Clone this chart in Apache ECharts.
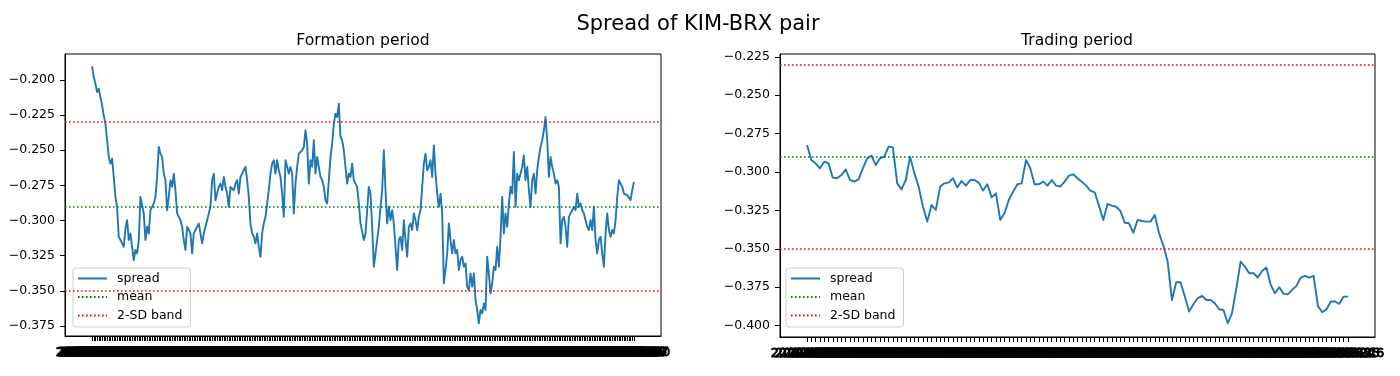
<!DOCTYPE html>
<html>
<head>
<meta charset="utf-8">
<title>Spread of KIM-BRX pair</title>
<script src="https://cdn.jsdelivr.net/npm/echarts@6/dist/echarts.min.js"></script>
<style>
    html, body { margin: 0; padding: 0; background: #fff; }
    #spreadChart { width: 1400px; height: 376px; }
</style>
</head>
<body>
<div id="spreadChart"></div>
<script>
// spread values, formation period
const formationSpread = [
    -0.1905, -0.1981, -0.2028, -0.2088, -0.2064, -0.2076, -0.2182, -0.2253, -0.2312, -0.2430,
    -0.2548, -0.2596, -0.2560, -0.2690, -0.2832, -0.2903, -0.3116, -0.3139, -0.3163, -0.3187,
    -0.3057, -0.2998, -0.3139, -0.3092, -0.3187, -0.3281, -0.3210, -0.3234, -0.3139, -0.2832,
    -0.2820, -0.2950, -0.3139, -0.3045, -0.3092, -0.2927, -0.2903, -0.2879, -0.2832, -0.2690,
    -0.2478, -0.2525, -0.2548, -0.2667, -0.2714, -0.2927, -0.2832, -0.2714, -0.2761, -0.2667,
    -0.2785, -0.2950, -0.2974, -0.2998, -0.3045, -0.3139, -0.3210, -0.3045, -0.3068, -0.3092,
    -0.3234, -0.3092, -0.3068, -0.3045, -0.3021, -0.3092, -0.3163, -0.3092, -0.3045, -0.2998,
    -0.2950, -0.2903, -0.2714, -0.2667, -0.2856, -0.2809, -0.2761, -0.2738, -0.2785, -0.2690,
    -0.2761, -0.2809, -0.2903, -0.2761, -0.2773, -0.2785, -0.2738, -0.2714, -0.2809, -0.2690,
    -0.2667, -0.2643, -0.2619, -0.2714, -0.2832, -0.3021, -0.3092, -0.3116, -0.3163, -0.3092,
    -0.3187, -0.3258, -0.3092, -0.3021, -0.2974, -0.2879, -0.2785, -0.2667, -0.2596, -0.2572,
    -0.2667, -0.2572, -0.2643, -0.2690, -0.2809, -0.2974, -0.2572, -0.2619, -0.2667, -0.2619,
    -0.2667, -0.2950, -0.2738, -0.2619, -0.2525, -0.2513, -0.2501, -0.2478, -0.2359, -0.2454,
    -0.2738, -0.2572, -0.2619, -0.2430, -0.2667, -0.2548, -0.2619, -0.2690, -0.2714, -0.2761,
    -0.2856, -0.2879, -0.2714, -0.2548, -0.2454, -0.2312, -0.2241, -0.2265, -0.2170, -0.2407,
    -0.2430, -0.2501, -0.2619, -0.2738, -0.2667, -0.2690, -0.2596, -0.2714, -0.2738, -0.2761,
    -0.2879, -0.3021,
    -0.3021, -0.3139, -0.3092, -0.2927, -0.2761, -0.2809, -0.3045, -0.3329, -0.3234, -0.3139,
    -0.3045, -0.2903, -0.2785, -0.2501, -0.2785, -0.3021, -0.2903, -0.2998, -0.2927, -0.3021,
    -0.3187, -0.3352, -0.3139, -0.3116, -0.3210, -0.2998, -0.3139, -0.3258, -0.3045, -0.3021,
    -0.3068, -0.2950, -0.2998, -0.3068, -0.2974, -0.2927, -0.2761, -0.2596, -0.2525, -0.2643,
    -0.2619, -0.2572, -0.2690, -0.2466, -0.2667, -0.2809, -0.2903, -0.2809, -0.2950, -0.3447,
    -0.3352, -0.3234, -0.3021, -0.3139, -0.3234, -0.3139, -0.3234, -0.3210, -0.3352, -0.3281,
    -0.3258, -0.3329, -0.3305, -0.3470, -0.3494, -0.3376, -0.3470, -0.3376, -0.3565, -0.3636,
    -0.3730, -0.3636, -0.3659, -0.3589, -0.3636, -0.3258, -0.3376, -0.3518, -0.3447, -0.3329,
    -0.3352, -0.3187, -0.3329, -0.3116, -0.2832, -0.3092, -0.2950, -0.3045, -0.2879, -0.2761,
    -0.2809, -0.2513, -0.2903, -0.2667, -0.2714, -0.2714, -0.2619, -0.2537, -0.2714, -0.2619,
    -0.2785, -0.2903, -0.2714, -0.2667, -0.2809, -0.2643, -0.2548, -0.2478, -0.2430, -0.2359,
    -0.2265, -0.2430, -0.2690, -0.2548, -0.2619, -0.2667, -0.2738, -0.2714, -0.2761, -0.3163,
    -0.2998, -0.2974, -0.3045, -0.3187, -0.2974, -0.2950, -0.2927, -0.2903, -0.2927, -0.2809,
    -0.2903, -0.2879, -0.2927, -0.2950, -0.2998, -0.3045, -0.3068, -0.2998, -0.3068, -0.2903,
    -0.3139, -0.3234, -0.3139, -0.3116, -0.3234, -0.3329, -0.3092, -0.2950, -0.3068, -0.3116,
    -0.3068, -0.3092, -0.2998, -0.2832, -0.2714, -0.2738, -0.2761, -0.2809, -0.2809, -0.2820,
    -0.2832, -0.2856, -0.2785, -0.2726
];

// spread values, trading period
const tradingSpread = [
    -0.2824, -0.2922, -0.2944, -0.2976, -0.2933, -0.2944, -0.3037, -0.3041, -0.3020, -0.2983,
    -0.3052, -0.3063, -0.3048, -0.2976, -0.2911, -0.2894, -0.2955, -0.2911, -0.2900, -0.2835,
    -0.2840, -0.3074, -0.3113, -0.3052, -0.2900, -0.3009, -0.3095, -0.3226, -0.3323, -0.3215,
    -0.3247, -0.3095, -0.3074, -0.3069, -0.3041, -0.3100, -0.3059, -0.3089, -0.3052, -0.3052,
    -0.3069, -0.3121, -0.3080, -0.3165, -0.3139, -0.3312, -0.3269, -0.3182, -0.3128, -0.3080,
    -0.3074, -0.2922, -0.2976, -0.3080, -0.3080, -0.3063, -0.3089, -0.3052,
    -0.3089, -0.3095, -0.3063, -0.3024, -0.3015, -0.3041, -0.3063, -0.3089, -0.3121, -0.3132,
    -0.3219, -0.3312, -0.3208, -0.3219, -0.3226, -0.3254, -0.3330, -0.3334, -0.3395, -0.3312,
    -0.3319, -0.3323, -0.3323, -0.3280, -0.3399, -0.3479, -0.3583, -0.3833, -0.3718, -0.3718,
    -0.3811, -0.3908, -0.3861, -0.3822, -0.3806, -0.3833, -0.3833, -0.3854, -0.3893, -0.3898,
    -0.3984, -0.3919, -0.3757, -0.3583, -0.3616, -0.3659, -0.3659, -0.3687, -0.3644, -0.3622,
    -0.3735, -0.3789, -0.3750, -0.3793, -0.3796, -0.3767, -0.3741, -0.3687, -0.3676, -0.3687,
    -0.3676, -0.3872, -0.3913, -0.3893, -0.3843, -0.3843, -0.3858, -0.3811, -0.3811
];

// mean and 2-SD band of the formation spread
const meanLevel = -0.2898;
const bandLevels = [-0.2311, -0.3485];

// y tick labels
const formationYTicks = [-0.375, -0.350, -0.325, -0.300, -0.275, -0.250, -0.225, -0.200];
const tradingYTicks = [-0.400, -0.375, -0.350, -0.325, -0.300, -0.275, -0.250, -0.225];

// date categories (trading days)
const formationDates = tradingDays('2018-10-01', formationSpread.length);
const tradingDates = tradingDays('2020-01-02', tradingSpread.length);

const FONT = 'DejaVu Sans';
const BLUE = '#1f77b4';
const GREEN = '#008000';
const RED = '#ff0000';
const DOTS = [1.6, 2.4];
const MARGIN = 0.05;

function tradingDays(start, n) {
    const out = [];
    const d = new Date(start + 'T00:00:00Z');
    while (out.length < n) {
        const w = d.getUTCDay();
        if (w !== 0 && w !== 6) out.push(d.toISOString().slice(0, 10));
        d.setUTCDate(d.getUTCDate() + 1);
    }
    return out;
}

function fmtTick(v) {
    return (v < 0 ? '\u2212' : '') + Math.abs(v).toFixed(3);
}

function xAxisFor(idx, dates) {
    const n = dates.length;
    return {
        type: 'value',
        gridIndex: idx,
        min: -MARGIN * (n - 1),
        max: (1 + MARGIN) * (n - 1),
        splitLine: { show: false },
        axisLine: { show: true, onZero: false, lineStyle: { color: '#000', width: 1 } },
        axisTick: { show: true, customValues: dates.map((_, i) => i), length: 5, lineStyle: { color: '#000', width: 1 } },
        // every date label is drawn by dateLabels below, overlapping like the original
        axisLabel: { show: false }
    };
}

function yAxisFor(idx, min, max, ticks) {
    return {
        type: 'value',
        gridIndex: idx,
        min: min,
        max: max,
        splitLine: { show: false },
        axisLine: { show: true, onZero: false, lineStyle: { color: '#000', width: 1 } },
        axisTick: { show: true, customValues: ticks, length: 5, lineStyle: { color: '#000', width: 1 } },
        axisLabel: {
            customValues: ticks,
            formatter: fmtTick,
            fontFamily: FONT, fontSize: 12.5, color: '#000', margin: 10
        }
    };
}

function legendFor(left) {
    return {
        orient: 'vertical',
        left: left,
        top: 268,
        selectedMode: false,
        itemWidth: 29,
        itemHeight: 14,
        itemGap: 5.5,
        padding: [4, 8, 5, 4],
        backgroundColor: 'rgba(255,255,255,0.8)',
        borderColor: '#cccccc',
        borderWidth: 1,
        borderRadius: 3,
        itemStyle: { opacity: 0 },
        textStyle: { fontFamily: FONT, fontSize: 12.5, color: '#000', padding: [0, 0, 0, 5] },
        data: ['spread', 'mean', '2-SD band']
    };
}

// all date labels under an axis, no overlap hiding
function dateLabels(idx, dates) {
    return {
        name: 'dates',
        type: 'custom',
        xAxisIndex: idx,
        yAxisIndex: idx,
        silent: true,
        clip: false,
        data: dates.map((_, i) => [i]),
        encode: { x: 0 },
        renderItem: function (params, api) {
            const x = api.coord([api.value(0), 0])[0];
            const bottom = params.coordSys.y + params.coordSys.height;
            return {
                type: 'text',
                x: x,
                y: bottom + 10,
                style: {
                    text: dates[params.dataIndex],
                    fontFamily: FONT,
                    fontSize: 12.5,
                    fill: '#000',
                    stroke: '#000',
                    lineWidth: 0.8,
                    align: 'center',
                    verticalAlign: 'top'
                }
            };
        }
    };
}

function seriesFor(idx, values, dates) {
    return [
        {
            name: 'spread',
            type: 'line',
            xAxisIndex: idx,
            yAxisIndex: idx,
            data: values.map((v, i) => [i, v]),
            symbol: 'none',
            lineStyle: { color: BLUE, width: 1.9, join: 'round' },
            itemStyle: { color: BLUE }
        },
        {
            name: 'mean',
            type: 'line',
            xAxisIndex: idx,
            yAxisIndex: idx,
            data: [],
            symbol: 'none',
            lineStyle: { color: GREEN, width: 1.6, type: DOTS },
            itemStyle: { color: GREEN },
            markLine: {
                silent: true,
                symbol: ['none', 'none'],
                label: { show: false },
                lineStyle: { color: GREEN, width: 1.6, type: DOTS },
                data: [{ yAxis: meanLevel }]
            }
        },
        {
            name: '2-SD band',
            type: 'line',
            xAxisIndex: idx,
            yAxisIndex: idx,
            data: [],
            symbol: 'none',
            lineStyle: { color: RED, width: 1.6, type: DOTS },
            itemStyle: { color: RED },
            markLine: {
                silent: true,
                symbol: ['none', 'none'],
                label: { show: false },
                lineStyle: { color: RED, width: 1.6, type: DOTS },
                data: bandLevels.map(b => ({ yAxis: b }))
            }
        },
        dateLabels(idx, dates)
    ];
}

function initSpreadChart() {
    const chart = echarts.init(document.getElementById('spreadChart'));
    const frame = { show: true, borderColor: '#000', borderWidth: 1 };
    const option = {
        animation: false,
        backgroundColor: '#fff',
        title: [
            { text: 'Spread of KIM-BRX pair', left: 698, top: 14, padding: 0, textAlign: 'center',
              textStyle: { fontFamily: FONT, fontSize: 21, fontWeight: 'normal', color: '#000' } },
            { text: 'Formation period', left: 363, top: 33, padding: 0, textAlign: 'center',
              textStyle: { fontFamily: FONT, fontSize: 15.6, fontWeight: 'normal', color: '#000' } },
            { text: 'Trading period', left: 1077, top: 33, padding: 0, textAlign: 'center',
              textStyle: { fontFamily: FONT, fontSize: 15.6, fontWeight: 'normal', color: '#000' } }
        ],
        legend: [legendFor(73), legendFor(786)],
        grid: [
            Object.assign({ left: 65, top: 54, width: 596, height: 282 }, frame),
            Object.assign({ left: 780, top: 54, width: 595, height: 283 }, frame)
        ],
        xAxis: [xAxisFor(0, formationDates), xAxisFor(1, tradingDates)],
        yAxis: [
            yAxisFor(0, -0.3821, -0.1817, formationYTicks),
            yAxisFor(1, -0.4074, -0.2232, tradingYTicks)
        ],
        series: seriesFor(0, formationSpread, formationDates).concat(seriesFor(1, tradingSpread, tradingDates))
    };
    chart.setOption(option);
}

initSpreadChart();
</script>
</body>
</html>
